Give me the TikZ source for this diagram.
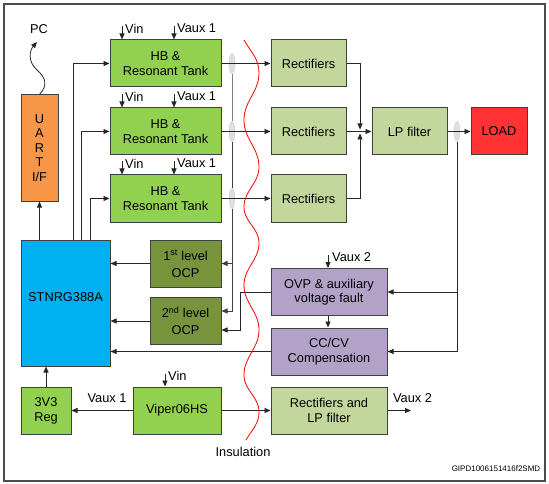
\documentclass[tikz,border=0pt]{standalone}
\usepackage{fontspec}
\setmainfont{Liberation Sans}
\usetikzlibrary{arrows.meta,shapes.geometric,calc}
\definecolor{hbgreen}{RGB}{146,208,80}
\definecolor{recgreen}{RGB}{195,214,155}
\definecolor{ocpgreen}{RGB}{119,147,60}
\definecolor{stnblue}{RGB}{0,176,240}
\definecolor{uartorange}{RGB}{247,150,70}
\definecolor{ovppurple}{RGB}{179,162,199}
\definecolor{loadred}{RGB}{255,51,51}
\definecolor{bordergray}{RGB}{64,64,64}
\begin{document}
\begin{tikzpicture}[x=1pt,y=-1pt,
  box/.style={draw=bordergray, line width=1pt, inner sep=1pt, align=center,
    font=\fontsize{12.8}{15}\selectfont},
  lbl/.style={inner sep=0pt, font=\fontsize{12.8}{15}\selectfont},
  conn/.style={draw=black!85, line width=0.8pt},
  arr/.style={conn, -{Triangle[length=6pt,width=5pt]}},
  oval/.style={ellipse, minimum width=6pt, minimum height=20pt, inner sep=0pt, fill=gray!25, draw=gray!35, line width=0.5pt}]
\useasboundingbox (0,0) rectangle (549,484);
\draw[line width=1.4pt, black!70] (4,4) rectangle (545,481);

% boxes
\node[box, fill=hbgreen, minimum width=111pt, minimum height=47pt] (hb1) at (165.5,63.5) {HB \&\\Resonant Tank};
\node[box, fill=hbgreen, minimum width=111pt, minimum height=47pt] (hb2) at (165.5,131.5) {HB \&\\Resonant Tank};
\node[box, fill=hbgreen, minimum width=111pt, minimum height=47pt] (hb3) at (165.5,198.5) {HB \&\\Resonant Tank};
\node[box, fill=recgreen, minimum width=75pt, minimum height=47pt] (r1) at (308.5,63.5) {Rectifiers};
\node[box, fill=recgreen, minimum width=75pt, minimum height=47pt] (r2) at (308.5,131.5) {Rectifiers};
\node[box, fill=recgreen, minimum width=75pt, minimum height=47pt] (r3) at (308.5,198.5) {Rectifiers};
\node[box, fill=recgreen, minimum width=75pt, minimum height=47pt] (lp) at (409.5,131.5) {LP filter};
\node[box, fill=loadred, minimum width=56pt, minimum height=47pt] (load) at (499,131.5) {LOAD};
\node[box, fill=uartorange, minimum width=37pt, minimum height=106pt, font=\fontsize{12.8}{14.5}\selectfont] (uart) at (39.5,148) {U\\A\\R\\T\\I/F};
\node[box, fill=stnblue, minimum width=89pt, minimum height=126pt] (stn) at (65.5,303) {};
\node[lbl] (stnlbl) at (65.5,297) {STNRG388A};
\node[box, fill=ocpgreen, minimum width=71pt, minimum height=47pt] (ocp1) at (185.5,263.5) {1\textsuperscript{st} level\\[2pt]OCP};
\node[box, fill=ocpgreen, minimum width=71pt, minimum height=47pt] (ocp2) at (185.5,321) {2\textsuperscript{nd} level\\[2pt]OCP};
\node[box, fill=ovppurple, minimum width=116pt, minimum height=47pt, font=\fontsize{12.8}{14}\selectfont] (ovp) at (329,292) {OVP \& auxiliary\\voltage fault};
\node[box, fill=ovppurple, minimum width=116pt, minimum height=47pt] (cc) at (329,351.5) {CC/CV\\Compensation};
\node[box, fill=hbgreen, minimum width=50pt, minimum height=47pt] (reg) at (46,410.5) {3V3\\Reg};
\node[box, fill=hbgreen, minimum width=88pt, minimum height=47pt] (vip) at (177,410.5) {Viper06HS};
\node[box, fill=recgreen, minimum width=116pt, minimum height=47pt, font=\fontsize{12.8}{14.5}\selectfont] (rlp) at (329,410.5) {Rectifiers and\\LP filter};

% helper coordinates
\coordinate (c1) at (73,0);
\coordinate (c2) at (81,0);
\coordinate (c3) at (90,0);
\coordinate (vinx) at (122,0);
\coordinate (vauxx) at (174,0);
\coordinate (vvx) at (165,0);

% supply arrows and labels on HB boxes
\foreach \h in {hb1,hb2,hb3}{
  \draw[arr] ($(\h.north -| vinx)+(0,-13)$) -- (\h.north -| vinx);
  \draw[arr] ($(\h.north -| vauxx)+(0,-13)$) -- (\h.north -| vauxx);
  \node[lbl, anchor=west] at ($(\h.north -| vinx)+(3,-11)$) {Vin};
  \node[lbl, anchor=west] at ($(\h.north -| vauxx)+(3,-11)$) {Vaux 1};
}

% STNRG to HB
\draw[arr] (stn.north -| c1) |- (hb1.west);
\draw[arr] (stn.north -| c2) |- (hb2.west);
\draw[arr] (stn.north -| c3) |- (hb3.west);
\draw[arr] (stn.north -| uart.south) -- (uart.south);

% PC
\node[lbl] (pc) at (39,29) {PC};
\draw[arr] (uart.north) .. controls (48,85) and (46,78) .. (37,70) .. controls (27,61) and (30,50) .. (37,42);

% current sense ovals
\node[oval] (o1) at (232,63.5) {};
\node[oval] (o2) at (232,131.5) {};
\node[oval] (o3) at (232,198.5) {};
\node[oval] (o4) at (457,131.5) {};

% HB to rectifiers
\draw[arr] (hb1.east) -- (r1.west);
\draw[arr] (hb2.east) -- (r2.west);
\draw[arr] (hb3.east) -- (r3.west);

% sense line to OCP
\coordinate (s2) at (232,311);
\draw[conn, draw=gray] (o1.south) -- (o2.north);
\draw[conn, draw=black!75] (o2.south) -- (o3.north);
\draw[arr, draw=black!75] (o3.south) -- (s2) -- (ocp2.east |- s2);
\draw[arr, draw=black!75] (ocp1.east -| o1) -- (ocp1.east);

% OVP to OCP2
\coordinate (k) at (240,330);
\draw[arr] (ovp.west) -| (k) -- (ocp2.east |- k);

% to STNRG
\draw[arr] (ocp1.west) -- (stn.east |- ocp1.west);
\draw[arr] (ocp2.west) -- (stn.east |- ocp2.west);
\draw[arr] (cc.west) -- (stn.east |- cc.west);

% rectifiers to LP filter
\coordinate (j) at (360,131.5);
\draw[arr] (r1.east) -| ($(j)+(0,-2)$);
\draw[arr] (r3.east) -| ($(j)+(0,2)$);
\draw[arr] (r2.east) -- (lp.west);
\draw[arr] (lp.east) -- (load.west);

% feedback
\draw[arr] (o4.south) |- (cc.east);
\draw[arr] (ovp.east -| o4) -- (ovp.east);

% Vaux 2 to OVP, OVP to CC
\draw[arr] ($(ovp.north)+(-1,-13)$) -- ($(ovp.north)+(-1,0)$);
\node[lbl, anchor=west] at ($(ovp.north)+(3,-11)$) {Vaux 2};
\draw[arr] ($(ovp.south)+(-1,0)$) -- ($(cc.north)+(-1,0)$);

% auxiliary supply
\draw[arr] ($(vip.north -| vvx)+(0,-13)$) -- (vip.north -| vvx);
\node[lbl, anchor=west] at ($(vip.north -| vvx)+(3,-11)$) {Vin};
\draw[arr] (vip.west) -- (reg.east);
\node[lbl] (va1) at (107,398) {Vaux 1};
\draw[arr] (vip.east) -- (rlp.west);
\coordinate (vo) at (411,410.5);
\draw[arr] (rlp.east) -- (vo);
\node[lbl] (va2) at (412.5,398) {Vaux 2};
\draw[arr] (reg.north) -- (stn.south -| reg.north);

% insulation
\draw[red, line width=0.8pt] (244,40) to[out=-60,in=90] (259,73) to[out=-90,in=90] (244,120) to[out=-90,in=90] (259,167) to[out=-90,in=90] (244,207) to[out=-90,in=90] (259,243) to[out=-90,in=90] (244,285) to[out=-90,in=90] (259,330) to[out=-90,in=90] (244,375) to[out=-90,in=90] (259,412) to[out=-90,in=60] (246,440);
\node[lbl] (ins) at (243,452) {Insulation};

\node[inner sep=0pt, font=\fontsize{8}{9}\selectfont] (code) at (496,469) {GIPD1006151416f2SMD};
\end{tikzpicture}
\end{document}
